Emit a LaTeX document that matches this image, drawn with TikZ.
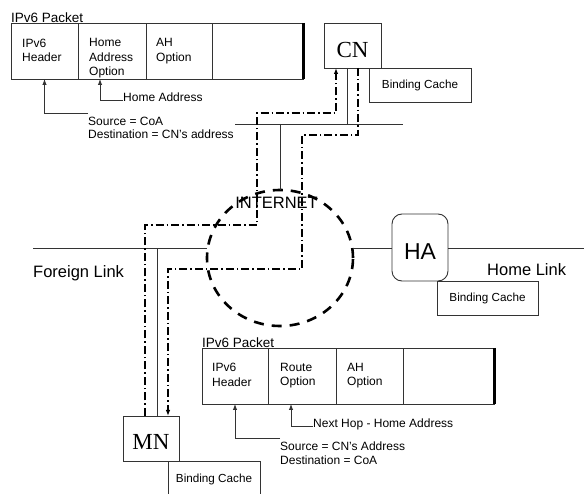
\documentclass[tikz,border=0pt]{standalone}
\usepackage{fontspec}
\setmainfont{Liberation Sans}
\newfontfamily\seriffont{Liberation Serif}
\usetikzlibrary{arrows.meta,shapes.geometric}
\tikzset{
 ln/.style={draw=black!80, line width=0.9pt},
 cell/.style={ln, rectangle, anchor=north west, minimum height=56pt, inner sep=0pt, outer sep=0pt},
 celltxt/.style={anchor=north west, inner sep=0pt, align=left, font=\fontsize{12}{14.5}\selectfont},
 ann/.style={inner sep=0pt, align=left, font=\fontsize{12}{13.3}\selectfont},
 ptitle/.style={anchor=base west, inner sep=0pt, font=\fontsize{13.5}{16}\selectfont},
 bcache/.style={ln, rectangle, inner sep=0pt, outer sep=0pt, font=\fontsize{11.7}{14}\selectfont},
 host/.style={ln, rectangle, inner sep=0pt, outer sep=0pt, text depth=0pt, font=\seriffont\fontsize{23}{26}\selectfont},
 lbl/.style={inner sep=0pt, font=\fontsize{16.5}{19}\selectfont},
 dd/.style={draw=black, line width=1.1pt, dash pattern=on 8pt off 3pt on 1.5pt off 3pt},
 tip/.style={-{Latex[length=6pt,width=4.5pt]}},
}
\begin{document}
\begin{tikzpicture}[x=1pt,y=-1pt]
\useasboundingbox (0,0) rectangle (584,494);
% top packet
\node[ptitle] (t1) at (11,22.5) {IPv6 Packet};
\node[cell, minimum width=67pt] (a1) at (11,23) {};
\node[cell, minimum width=68pt] (a2) at (a1.north east) {};
\node[cell, minimum width=66pt] (a3) at (a2.north east) {};
\node[cell, minimum width=91pt] (a4) at (a3.north east) {};
\draw[line width=3pt] (a4.north east) -- (a4.south east);
\node[celltxt] (a1t) at ([xshift=11pt,yshift=-15.5pt]a1.north west) {IPv6\\Header};
\node[celltxt] (a2t) at ([xshift=11pt,yshift=-15.5pt]a2.north west) {Home\\Address\\Option};
\node[celltxt] (a3t) at ([xshift=10pt,yshift=-15.5pt]a3.north west) {AH\\Option};
\node[ann, anchor=north west] (sa) at (88,117) {Source = CoA\\Destination = CN's address};
\draw[ln, tip] ([yshift=4pt]sa.north west) -| (a1.south);
\node[ann, anchor=base west] (hat) at (123,102) {Home Address};
\draw[ln, tip] ([yshift=2pt]hat.base west) -| ([xshift=22pt]a2.south west);
% lower packet
\node[ptitle] (t2) at (202,347.5) {IPv6 Packet};
\node[cell, minimum width=66pt] (b1) at (202,348) {};
\node[cell, minimum width=68pt] (b2) at (b1.north east) {};
\node[cell, minimum width=67pt] (b3) at (b2.north east) {};
\node[cell, minimum width=91pt] (b4) at (b3.north east) {};
\draw[line width=3pt] (b4.north east) -- (b4.south east);
\node[celltxt] (b1t) at ([xshift=10pt,yshift=-15pt]b1.north west) {IPv6\\Header};
\node[celltxt] (b2t) at ([xshift=12pt,yshift=-15pt]b2.north west) {Route\\Option};
\node[celltxt] (b3t) at ([xshift=11pt,yshift=-15pt]b3.north west) {AH\\Option};
\node[ann, anchor=north west] (sb) at (280,442) {Source = CN's Address\\Destination = CoA};
\draw[ln, tip] ([yshift=4pt]sb.north west) -| (b1.south);
\node[ann, anchor=base west] (nh) at (313,428) {Next Hop - Home Address};
\draw[ln, tip] ([yshift=1.5pt]nh.base west) -| ([xshift=23pt]b2.south west);
% hosts
\node[host, text height=24pt, minimum width=57pt, minimum height=45pt] (cn) at (352.5,45.5) {CN};
\node[bcache, minimum width=102pt, minimum height=34pt] (cnb) at (420,85) {Binding Cache};
\node[host, rounded corners=10pt, text height=23.4pt, font=\fontsize{23}{26}\selectfont, minimum width=56pt, minimum height=67pt] (ha) at (420,247.5) {HA};
\node[bcache, minimum width=101pt, minimum height=34pt] (hab) at (487.5,298) {Binding Cache};
\node[host, text height=22.5pt, minimum width=56pt, minimum height=45pt] (mn) at (151,438.5) {MN};
\node[bcache, minimum width=92pt, minimum height=36pt] (mnb) at (214,479) {Binding Cache};
% internet
\node[ellipse, draw=black, line width=2.6pt, dash pattern=on 10pt off 8pt, minimum width=146pt, minimum height=136pt, inner sep=0pt, outer sep=0pt] (inet) at (280,258) {};
\node[lbl, anchor=base] (inett) at (276.5,209) {INTERNET};
\node[lbl, anchor=base west] (fll) at (33,278) {Foreign Link};
\node[lbl, anchor=base west] (hll) at (487,276) {Home Link};
% links
\coordinate (fl) at (33,248);
\coordinate (hl) at (584,248);
\coordinate (cl1) at (235,124);
\coordinate (cl2) at (403,124);
\draw[ln] (fl) -- (inet.west |- fl);
\draw[ln] (inet.east |- fl) -- (ha.west |- fl);
\draw[ln] (ha.east |- fl) -- (hl);
\draw[ln] (cl1) -- (cl2);
\draw[ln] ([xshift=-5.5pt]cn.south) -- ([xshift=-5.5pt]cn.south |- cl1);
\draw[ln] (inet.north |- cl1) -- (inet.north);
\draw[ln] ([xshift=6pt]mn.north) -- ([xshift=6pt]mn.north |- fl);
% packet routes
\draw[dd, tip] ([xshift=-6pt]mn.north) |- (257,225) |- (336,113) -- ([xshift=-16.5pt]cn.south);
\draw[dd, tip] ([xshift=5.5pt]cn.south) |- (302,135) |- (168,269) -- ([xshift=17pt]mn.north);
\end{tikzpicture}
\end{document}
